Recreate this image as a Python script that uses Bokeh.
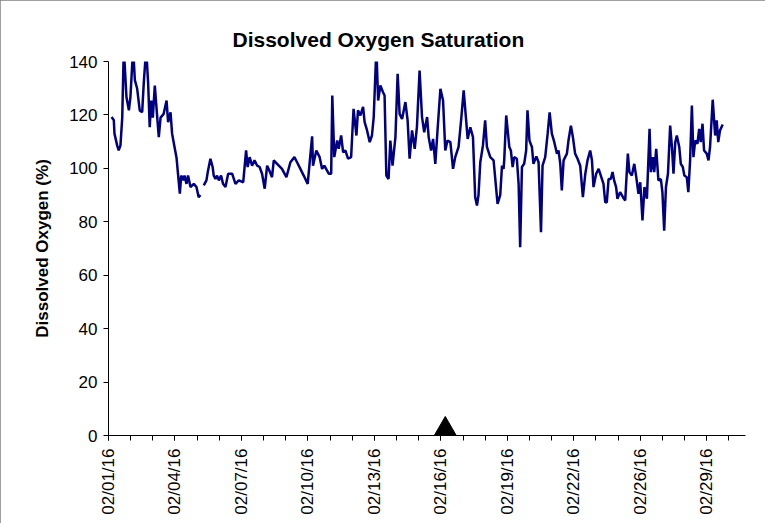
import math
from bokeh.plotting import figure
from bokeh.models import Range1d, FixedTicker
from bokeh.embed import file_html
from bokeh.resources import INLINE

# x positions are in axis-tick units (one tick per day on the category axis)
tick_labels = ["02/01/16", "02/04/16", "02/07/16", "02/10/16", "02/13/16",
               "02/16/16", "02/19/16", "02/22/16", "02/26/16", "02/29/16"]
tick_pos = [0, 3, 6, 9, 12, 15, 18, 21, 24, 27]

t = [0.14, 0.24, 0.27, 0.39, 0.46, 0.54, 0.62, 0.69, 0.81, 0.92, 0.99, 1.11, 1.19, 1.29, 1.41,
     1.52, 1.59, 1.70, 1.79, 1.86, 1.93, 2.00, 2.09, 2.20, 2.27, 2.35, 2.49, 2.62, 2.69, 2.80,
     2.87, 2.98, 3.07, 3.13, 3.22, 3.28, 3.37, 3.43, 3.52, 3.59, 3.70, 3.85, 3.97, 4.07, 4.15,
     4.22,
     4.30, 4.42, 4.48, 4.60, 4.70, 4.75, 4.83, 4.90, 4.98, 5.08, 5.17, 5.28, 5.40, 5.58, 5.73,
     5.88, 6.08, 6.21, 6.28, 6.37, 6.48, 6.59, 6.71, 6.82, 6.93, 7.05, 7.16, 7.26, 7.38, 7.46,
     7.61, 7.83, 8.03, 8.21, 8.39, 8.51, 8.66, 8.81, 8.99, 9.19, 9.23, 9.38, 9.53, 9.64, 9.74,
     9.94, 10.05, 10.10, 10.19, 10.32, 10.39, 10.50, 10.59, 10.69, 10.81, 10.95, 11.06, 11.19,
     11.26, 11.37, 11.49, 11.56, 11.67, 11.79, 11.89, 11.97, 12.09, 12.17, 12.27, 12.39, 12.46,
     12.54, 12.64, 12.72, 12.82, 12.95, 13.05, 13.14, 13.25, 13.40, 13.50, 13.59, 13.70, 13.82,
     13.92, 14.04, 14.15, 14.25, 14.38, 14.45, 14.56, 14.65, 14.75, 14.85, 14.98, 15.10, 15.20,
     15.30, 15.43, 15.55, 15.65, 15.80, 15.92, 16.03, 16.13, 16.21, 16.33, 16.45, 16.55, 16.63,
     16.70, 16.78, 16.90, 17.00, 17.08, 17.23, 17.38, 17.56, 17.68, 17.76, 17.83, 17.86, 17.95,
     18.09, 18.16, 18.24, 18.31, 18.43, 18.51, 18.58, 18.66, 18.76, 18.85, 18.91, 19.00, 19.11,
     19.18, 19.31, 19.41, 19.52, 19.59, 19.71, 19.82, 19.91, 20.01, 20.12, 20.24, 20.31, 20.39,
     20.46, 20.54, 20.69, 20.76, 20.87, 20.96, 21.06, 21.17, 21.29, 21.41, 21.52, 21.62, 21.74,
     21.82, 21.89, 22.01, 22.12, 22.22, 22.34, 22.42, 22.49, 22.57, 22.67, 22.75, 22.82, 22.91,
     22.97, 23.09, 23.22, 23.32, 23.44, 23.51, 23.62, 23.73, 23.82, 23.92, 24.00, 24.10, 24.19,
     24.30, 24.42, 24.48, 24.57, 24.63, 24.72, 24.82, 24.93, 25.00, 25.08, 25.16, 25.25, 25.35,
     25.43, 25.50, 25.58, 25.65, 25.76, 25.83, 25.92, 25.99, 26.10, 26.17, 26.25, 26.33, 26.40,
     26.48, 26.58, 26.66, 26.73, 26.81, 26.88, 27.00, 27.08, 27.15, 27.27, 27.38, 27.45, 27.52,
     27.60, 27.72]

do_sat = [119.2, 118, 113, 108.6, 106.7, 108.6, 119, 145, 126.7, 121.7, 126.7, 145, 133, 130, 121.7,
          121, 131.7, 145, 131.7, 115.4, 125.4, 119, 131, 119, 111.7, 119, 120.4, 125.4, 117.3, 121,
          113, 108, 104, 98.6, 90.5, 97.3, 95.5, 97.3, 94.2, 97.3, 93, 94.2, 93, 89.2, 90,
          float("nan"),
          93.6, 95.5, 98.6, 103.6, 100.5, 97.3, 96, 97.3, 95.5, 97.3, 94.2, 93, 98, 98, 94.2,
          95.5, 94.8, 106.7, 100.5, 104.2, 101, 103, 101, 100.5, 98, 92.4, 101, 99.2, 96.7, 103,
          101.7, 99.8, 96.7, 102.3, 104.2, 102.3, 99.8, 97.3, 94.2, 112, 101, 106.7, 104.2, 99.8, 101,
          98, 98, 127.3, 104.2, 110.4, 107.3, 112.3, 106, 106.7, 103.6, 104.2, 122.3, 112.3,
          121.7, 119.8, 123, 117.3, 114.2, 109.8, 112.3, 119.2, 145, 125.4, 131, 128.5, 127.3,
          97.3, 96, 110.4, 101, 111.7, 135.4, 120.4, 118.5, 124.8, 118, 103.6, 114.2, 107.3,
          115.4, 136.6, 119.2, 113.5, 119.2, 111.7, 106.7, 111, 101.7, 114.2, 129.8, 125.4, 106.7,
          110.4, 109.8, 99.8, 104.2, 108, 118.5, 129.2, 119.2, 111, 115.4, 111.7, 89.2, 86.1,
          90, 102.3, 108.6, 118, 108, 104.2, 103, 86.7, 90, 101, 99.8, 103, 119.8,
          108, 106.7, 100.5, 104.2, 103.6, 94.2, 70.5, 100.5, 101.7, 106.7, 121.7, 110.4, 108,
          101.7, 104.5, 102.3, 76.1, 101, 104.2, 113, 121, 113, 109.8, 105.5, 106.7, 101.7,
          91.7, 103, 105.5, 110.4, 116, 111.7, 105.5, 103.6, 101, 89.2, 98, 103, 106.7,
          103, 93, 98, 99.8, 97.3, 94.2, 87.3, 87.3, 96, 96, 98.6, 95.5, 93,
          88.6, 91.1, 89.2, 88, 105.5, 98.6, 97.3, 101.7, 96.7, 90.5, 94.8, 80.5, 93,
          88.6, 114.8, 98.6, 104.2, 98.6, 107.3, 95.5, 96, 91.1, 76.7, 93, 98, 116,
          108, 98, 109.8, 112.3, 108, 101.7, 100.5, 97.3, 96.7, 91.1, 103, 123.5, 104.2,
          110.4, 109.2, 114.8, 109.8, 116.7, 106.7, 105.5, 103, 108, 125.7, 112.3, 118, 109.8,
          114.2, 116.4]

event_t = [15.2]
event_y = [0]

W, H = 765, 523
LEFT, RIGHT, TOP, BOTTOM = 108, 20, 61, 88

p = figure(width=W, height=H, output_backend="svg", toolbar_location=None,
           x_range=Range1d(0, 28.75), y_range=Range1d(0, 140),
           min_border_left=LEFT, min_border_right=RIGHT,
           min_border_top=TOP, min_border_bottom=BOTTOM,
           title="Dissolved Oxygen Saturation")
p.styles = {"outline": "1px solid #808080", "outline-offset": "-1px"}

p.title.text_font = "Liberation Sans"
p.title.text_font_size = "21px"
p.title.text_font_style = "bold"
p.title.text_color = "black"
p.title.align = "left"
p.title.offset = 124
p.title.standoff = 21

p.grid.visible = False
p.outline_line_color = None
p.background_fill_color = "white"
p.border_fill_color = "white"

p.line(t, do_sat, line_color="#000080", line_width=2.5)

frame_h = H - TOP - BOTTOM
px_per_unit = frame_h / 140.0
tri_size = 22
tri_off = (tri_size / 2) * math.sqrt(3) / 3 / px_per_unit
p.scatter(event_t, [v + tri_off for v in event_y], marker="triangle", size=tri_size,
          fill_color="black", line_color="black")

xa = p.xaxis[0]
xa.ticker = FixedTicker(ticks=tick_pos, minor_ticks=list(range(0, 29)))
xa.major_label_overrides = {pos: lab for pos, lab in zip(tick_pos, tick_labels)}
xa.major_label_orientation = math.pi / 2
xa.major_tick_in = 0
xa.major_tick_out = 5
xa.minor_tick_in = 0
xa.minor_tick_out = 5
xa.major_label_standoff = 8

ya = p.yaxis[0]
ya.ticker = FixedTicker(ticks=list(range(0, 141, 20)))
ya.major_tick_in = 0
ya.major_tick_out = 5
ya.axis_label = "Dissolved Oxygen (%)"
ya.axis_label_text_font = "Liberation Sans"
ya.axis_label_text_font_size = "17px"
ya.axis_label_text_font_style = "bold"
ya.axis_label_text_color = "black"
ya.axis_label_standoff = 14
ya.major_label_standoff = 6

for ax in (xa, ya):
    ax.axis_line_color = "black"
    ax.major_tick_line_color = "black"
    ax.minor_tick_line_color = "black" if ax is xa else None
    ax.major_label_text_font = "Liberation Sans"
    ax.major_label_text_font_size = "17px"
    ax.major_label_text_color = "black"

open("out.html", "w").write(file_html(p, INLINE))
